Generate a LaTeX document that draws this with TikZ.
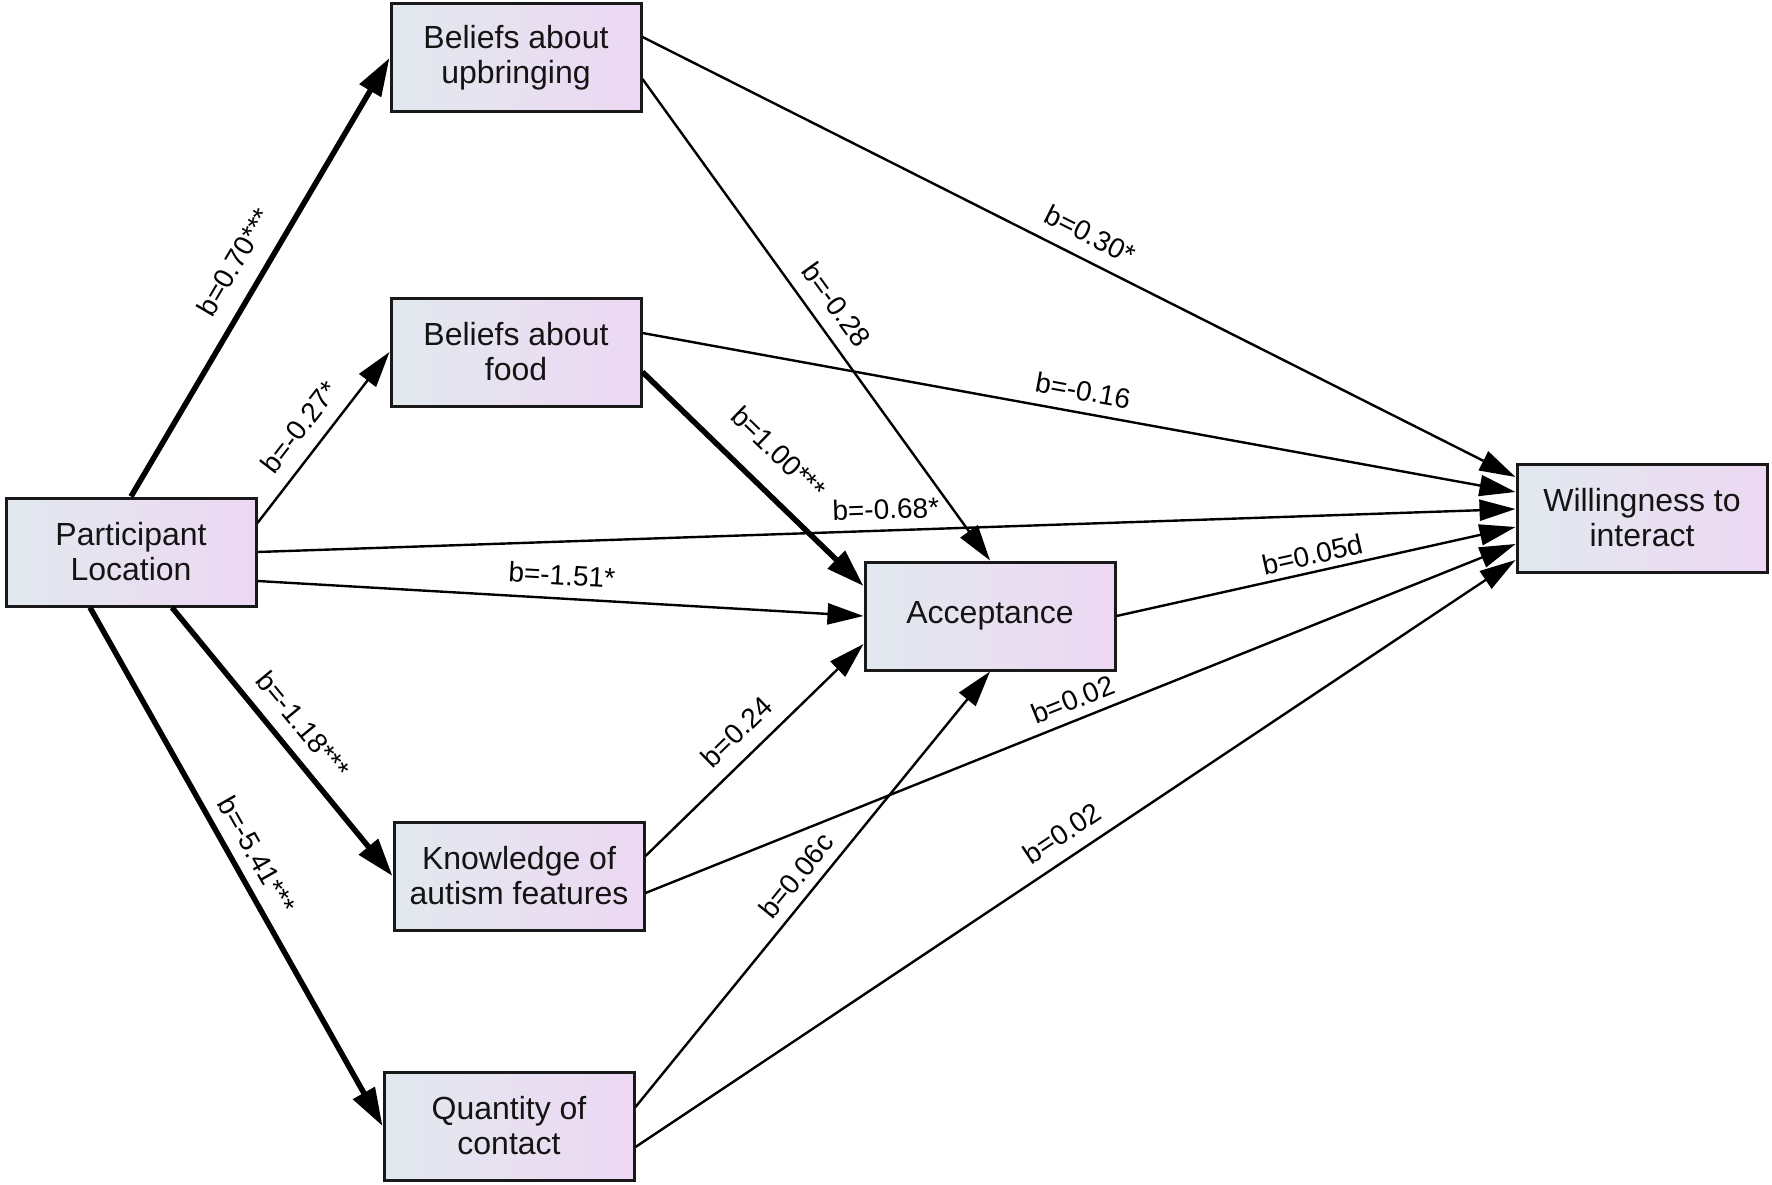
\documentclass[tikz,border=0pt]{standalone}
\usepackage{fontspec}
\setmainfont{Liberation Sans}
\usetikzlibrary{arrows.meta}
\definecolor{boxleft}{RGB}{226,233,238}
\definecolor{boxright}{RGB}{237,216,243}
\definecolor{boxline}{RGB}{25,25,25}
\tikzset{
  varbox/.style={draw=boxline, line width=3pt, left color=boxleft, right color=boxright,
    minimum width=250pt, minimum height=108pt, align=center, inner sep=0pt,
    font=\fontsize{32}{35}\selectfont, text=black!92},
  thinarrow/.style={line width=2.4pt, -{Triangle[length=36pt,width=21pt]}},
  thickarrow/.style={line width=5.5pt, -{Triangle[length=38pt,width=24pt]}},
  elabel/.style={midway, sloped, above=13pt, inner sep=1pt, font=\fontsize{28}{30}\selectfont}
}
\begin{document}
\begin{tikzpicture}[x=1pt,y=-1pt]
\fill[white] (0,0) rectangle (1772,1185);
\useasboundingbox (0,0) rectangle (1772,1185);

\node[varbox] (BU) at (516,58) {Beliefs about\\upbringing};
\node[varbox] (BF) at (516,352) {Beliefs about\\food};
\node[varbox] (PL) at (131,552) {Participant\\Location};
\node[varbox] (AC) at (990,616) {Acceptance};
\node[varbox] (WI) at (1642,518) {Willingness to\\interact};
\node[varbox] (KN) at (519,876) {Knowledge of\\autism features};
\node[varbox] (QC) at (509,1126) {Quantity of\\contact};

% from Participant Location
\draw[thickarrow] (PL.north) -- (BU.west) node[elabel, above=3pt] {b=0.70***};
\draw[thinarrow] ([yshift=29pt]PL.east) -- (BF.west) node[elabel, pos=0.47] {b=-0.27*};
\draw[thinarrow] (PL.east) -- ([yshift=9pt]WI.west) node[elabel, above=-4pt] {b=-0.68*};
\draw[thinarrow] ([yshift=-29pt]PL.east) -- (AC.west) node[elabel, above=-2pt] {b=-1.51*};
\draw[thickarrow] ([xshift=41pt]PL.south) -- (KN.west) node[elabel] {b=-1.18***};
\draw[thickarrow] ([xshift=-41pt]PL.south) -- (QC.west) node[elabel, above=-3pt] {b=-5.41***};

% from Beliefs about upbringing
\draw[thinarrow] ([yshift=-21pt]BU.east) -- (AC.north) node[elabel] {b=-0.28};
\draw[thinarrow] ([yshift=21pt]BU.east) -- ([yshift=41pt]WI.west) node[elabel, above=0pt] {b=0.30*};

% from Beliefs about food
\draw[thinarrow] ([yshift=19pt]BF.east) -- ([yshift=26pt]WI.west) node[elabel, above=-3pt] {b=-0.16};
\draw[thickarrow] ([yshift=-20pt]BF.east) -- ([yshift=30pt]AC.west) node[elabel, above=10pt] {b=1.00***};

% from Acceptance
\draw[thinarrow] (AC.east) -- ([yshift=-9pt]WI.west) node[elabel, above=-8pt] {b=0.05d};

% from Knowledge of autism features
\draw[thinarrow] ([yshift=20pt]KN.east) -- ([yshift=-28pt]AC.west) node[elabel] {b=0.24};
\draw[thinarrow] ([yshift=-17pt]KN.east) -- ([yshift=-26pt]WI.west) node[elabel, above=-5pt] {b=0.02};

% from Quantity of contact
\draw[thinarrow] ([yshift=19pt]QC.east) -- (AC.south) node[elabel, above=-4pt] {b=0.06c};
\draw[thinarrow] ([yshift=-21pt]QC.east) -- ([yshift=-42pt]WI.west) node[elabel, above=-1pt] {b=0.02};
\end{tikzpicture}
\end{document}
